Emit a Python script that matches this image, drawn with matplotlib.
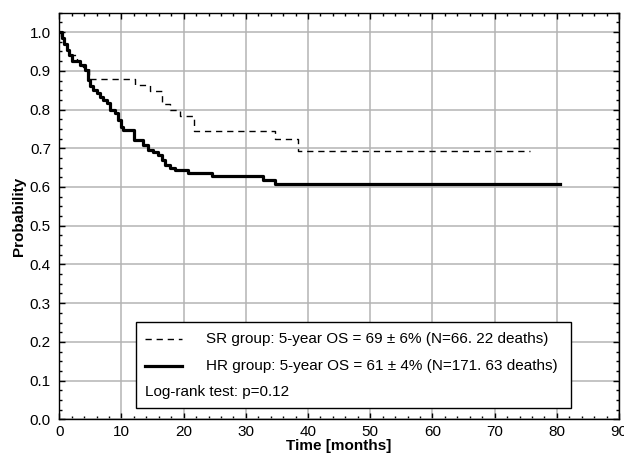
import matplotlib
matplotlib.use('Agg')
import matplotlib.pyplot as plt
from matplotlib.patches import Rectangle
from matplotlib.ticker import MultipleLocator

plt.rcParams['font.family'] = ['Liberation Sans', 'DejaVu Sans']

# SR group (dashed) - Kaplan-Meier steps
sr_time = [0, 0.3, 0.8, 1.3, 1.8, 2.8, 3.8, 4.7, 12.2, 14.6, 16.5, 17.8, 19.4, 21.7, 34.7, 38.4, 75.7]
sr_surv = [1.0, 0.985, 0.97, 0.955, 0.94, 0.925, 0.91, 0.88, 0.863, 0.848, 0.814, 0.799, 0.783, 0.745, 0.723, 0.693, 0.693]

# HR group (solid)
hr_time = [0, 0.4, 0.8, 1.2, 1.6, 2.0, 3.3, 4.1, 4.6, 5.0, 5.5, 6.0, 6.5, 7.0, 7.6, 8.2, 9.0, 9.5,
           10.0, 10.3, 12.0, 13.5, 14.3, 15.1, 15.9, 16.5, 17.0, 17.8, 18.6, 20.7, 24.5, 32.8, 34.7, 80.5]
hr_surv = [1.0, 0.985, 0.97, 0.955, 0.94, 0.925, 0.915, 0.902, 0.876, 0.862, 0.85, 0.842, 0.833, 0.825, 0.816,
           0.799, 0.79, 0.773, 0.755, 0.747, 0.721, 0.708, 0.695, 0.691, 0.682, 0.67, 0.657, 0.648, 0.644,
           0.637, 0.629, 0.618, 0.608, 0.608]

sr_label = 'SR group: 5-year OS = 69 \u00b1 6% (N=66. 22 deaths)'
hr_label = 'HR group: 5-year OS = 61 \u00b1 4% (N=171. 63 deaths)'
test_label = 'Log-rank test: p=0.12'

fig = plt.figure(figsize=(6.24, 4.62), dpi=100)
ax = fig.add_axes([0.095, 0.0924, 0.897, 0.880])

ax.step(sr_time, sr_surv, where='post', color='black', lw=1.0, dashes=(4.5, 3.5))
ax.step(hr_time, hr_surv, where='post', color='black', lw=2.3)

ax.set_xlim(0, 90)
ax.set_ylim(0, 1.05)
ax.xaxis.set_major_locator(MultipleLocator(10))
ax.xaxis.set_minor_locator(MultipleLocator(2))
ax.yaxis.set_major_locator(MultipleLocator(0.1))
ax.yaxis.set_minor_locator(MultipleLocator(0.025))
ax.yaxis.set_major_formatter(plt.FuncFormatter(lambda v, p: '%.1f' % v))
ax.tick_params(which='both', direction='in', top=True, right=True, labelsize=11, width=1)
ax.tick_params(which='major', length=4)
ax.tick_params(axis='y', which='major', pad=6)
ax.tick_params(axis='x', which='major', pad=4)
ax.tick_params(which='minor', length=2)
ax.grid(True, which='major', color='#b4b4b4', lw=1.1)
ax.set_axisbelow(True)
for s in ax.spines.values():
    s.set_linewidth(1.0)

ax.set_xlabel('Time [months]', fontsize=11, fontweight='bold', labelpad=0)
ax.set_ylabel('Probability', fontsize=11, fontweight='bold', labelpad=3)

# legend box
ax.add_patch(Rectangle((0.137, 0.027), 0.777, 0.212, transform=ax.transAxes,
                       facecolor='white', edgecolor='black', lw=1.0, zorder=5))
ax.plot([0.154, 0.219], [0.1975, 0.1975], transform=ax.transAxes, color='black',
        lw=1.0, dashes=(4.5, 3.5), zorder=6)
ax.plot([0.154, 0.219], [0.131, 0.131], transform=ax.transAxes, color='black', lw=2.3, zorder=6)
ax.text(0.262, 0.1975, sr_label, transform=ax.transAxes, fontsize=11, va='center', zorder=6)
ax.text(0.262, 0.131, hr_label, transform=ax.transAxes, fontsize=11, va='center', zorder=6)
ax.text(0.154, 0.068, test_label, transform=ax.transAxes, fontsize=11, va='center', zorder=6)

fig.savefig('out.png', dpi=100)
